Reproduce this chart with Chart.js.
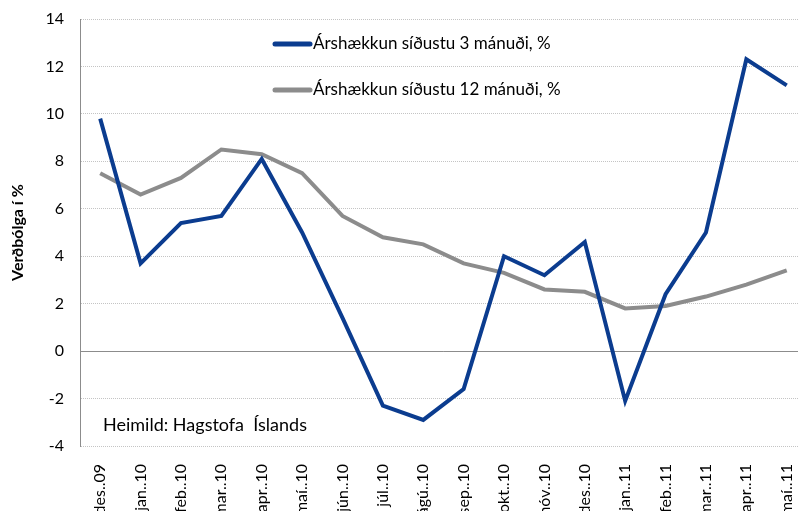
<!DOCTYPE html>
<html>
<head>
<meta charset="utf-8">
<script src="https://cdn.jsdelivr.net/npm/chart.js@4"></script>
<style>
  body { margin: 0; overflow: hidden; background: #fff; }
</style>
</head>
<body>
<canvas id="verdbolga" width="816" height="511"></canvas>
<script>
const months = ['des..09', 'jan..10', 'feb..10', 'mar..10', 'apr..10', 'maí..10', 'jún..10', 'júl..10', 'ágú..10',
    'sep..10', 'okt..10', 'nóv..10', 'des..10', 'jan..11', 'feb..11', 'mar..11', 'apr..11', 'maí..11'];
const threeMonth = [9.8, 3.7, 5.4, 5.7, 8.1, 5.0, 1.4, -2.3, -2.9, -1.6, 4.0, 3.2, 4.6, -2.1, 2.4, 5.0, 12.3, 11.2];
const twelveMonth = [7.5, 6.6, 7.3, 8.5, 8.3, 7.5, 5.7, 4.8, 4.5, 3.7, 3.3, 2.6, 2.5, 1.8, 1.9, 2.3, 2.8, 3.4];
const seriesNames = ['Árshækkun síðustu 3 mánuði, %', 'Árshækkun síðustu 12 mánuði, %'];
const sourceNote = 'Heimild: Hagstofa  Íslands';

const FONT = 'Lato, "Open Sans", sans-serif';

// legend + zero line + source text drawn on top of the plot
const extras = {
    id: 'extras',
    beforeDatasetsDraw(chart) {
        const { ctx, chartArea, scales } = chart;
        const y0 = scales.y.getPixelForValue(0);
        ctx.save();
        ctx.strokeStyle = '#8c8c8c';
        ctx.lineWidth = 1;
        ctx.beginPath();
        ctx.moveTo(chartArea.left, Math.round(y0) + 0.5);
        ctx.lineTo(chartArea.right, Math.round(y0) + 0.5);
        ctx.stroke();
        ctx.restore();
    },
    afterDraw(chart) {
        const { ctx } = chart;
        ctx.save();
        ctx.font = '17px ' + FONT;
        ctx.textBaseline = 'middle';
        ctx.fillStyle = '#000';
        chart.data.datasets.forEach((ds, i) => {
            const y = 44 + i * 46;
            ctx.strokeStyle = ds.borderColor;
            ctx.lineWidth = 5;
            ctx.lineCap = 'round';
            ctx.beginPath();
            ctx.moveTo(275, y);
            ctx.lineTo(310, y);
            ctx.stroke();
            ctx.fillText(ds.label, 313, y);
        });
        ctx.font = '18px ' + FONT;
        ctx.fillText(sourceNote, 103, 425);
        ctx.restore();
    }
};

const ctx = document.getElementById('verdbolga').getContext('2d');

new Chart(ctx, {
    type: 'line',
    data: {
        labels: months,
        datasets: [
            {
                label: seriesNames[0],
                data: threeMonth,
                borderColor: '#0b3c8f',
                borderWidth: 4,
                pointRadius: 0,
                tension: 0
            },
            {
                label: seriesNames[1],
                data: twelveMonth,
                borderColor: '#8c8c8c',
                borderWidth: 4,
                pointRadius: 0,
                tension: 0
            }
        ]
    },
    options: {
        responsive: false,
        animation: false,
        layout: { padding: { top: 19, left: 0, right: 3, bottom: 0 } },
        plugins: {
            legend: { display: false },
            tooltip: { enabled: false }
        },
        scales: {
            x: {
                offset: true,
                grid: { display: false },
                border: { display: false },
                ticks: {
                    minRotation: 90,
                    maxRotation: 90,
                    autoSkip: false,
                    color: '#000',
                    padding: 10,
                    font: { family: FONT, size: 16 }
                },
                afterFit(scale) { scale.height = 65; }
            },
            y: {
                min: -4,
                max: 14,
                ticks: {
                    stepSize: 2,
                    color: '#000',
                    padding: 4,
                    font: { family: FONT, size: 16, lineHeight: 1 }
                },
                grid: {
                    color: '#c4c4c4',
                    drawTicks: true,
                    tickLength: 12,
                    tickColor: 'rgba(0,0,0,0)'
                },
                border: { display: true, color: '#8c8c8c', dash: [1, 1] },
                title: {
                    display: true,
                    text: 'Verðbólga í %',
                    color: '#000',
                    font: { family: FONT, size: 16, weight: 'bold' },
                    padding: { top: 8, bottom: 4 }
                },
                afterFit(scale) { scale.width = 80; }
            }
        }
    },
    plugins: [extras]
});
</script>
</body>
</html>
